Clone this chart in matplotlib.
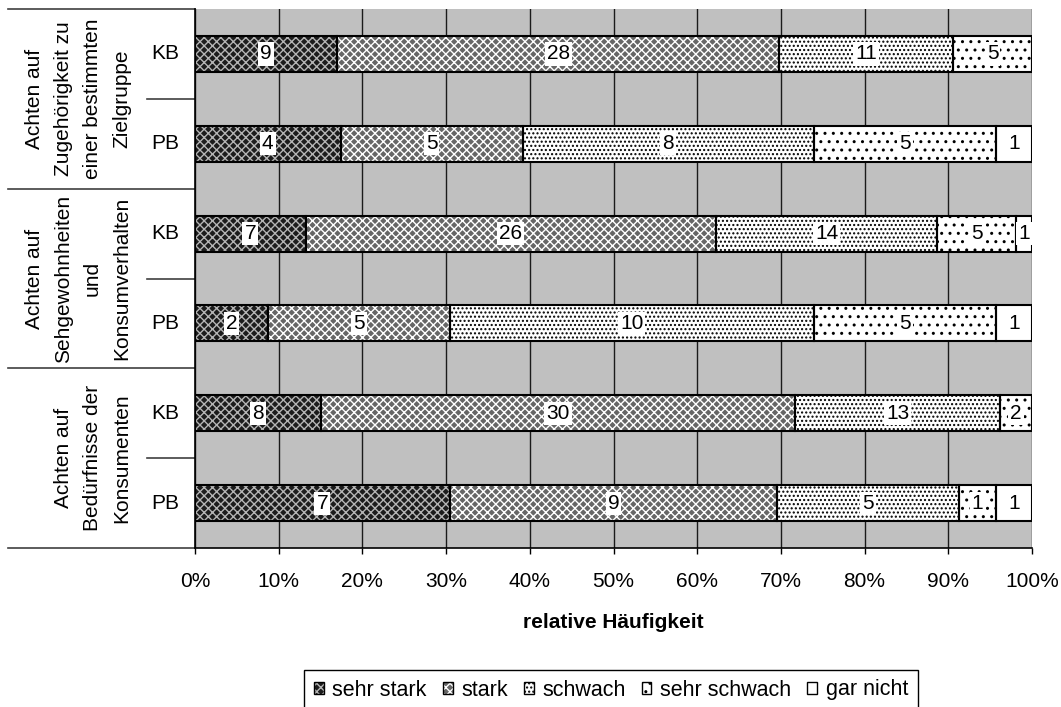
import matplotlib.pyplot as plt
from matplotlib.patches import Patch
from matplotlib.ticker import MultipleLocator, PercentFormatter
import numpy as np

plt.rcParams['font.family'] = ['Liberation Sans', 'DejaVu Sans']
plt.rcParams['hatch.linewidth'] = 1.0

# Stacked counts per answer level, rows top to bottom (KB/PB per criterion)
groups = [
    "Achten auf\nZugehörigkeit zu\neiner bestimmten\nZielgruppe",
    "Achten auf\nSehgewohnheiten\nund\nKonsumverhalten",
    "Achten auf\nBedürfnisse der\nKonsumenten",
]
rows = ["KB", "PB", "KB", "PB", "KB", "PB"]
levels = ["sehr stark", "stark", "schwach", "sehr schwach", "gar nicht"]

sehr_stark = [9, 4, 7, 2, 8, 7]
stark = [28, 5, 26, 5, 30, 9]
schwach = [11, 8, 14, 10, 13, 5]
sehr_schwach = [5, 5, 5, 5, 2, 1]
gar_nicht = [0, 1, 1, 1, 0, 1]

# face colour, hatch colour, hatch pattern
styles = [
    ("#1c1c1c", "#b4b4b4", "xxxx"),
    ("#666666", "#ffffff", "xxxx"),
    ("#ffffff", "#000000", "...."),
    ("#ffffff", "#000000", ".."),
    ("#ffffff", "#ffffff", ""),
]

counts = np.array([sehr_stark, stark, schwach, sehr_schwach, gar_nicht], dtype=float)
share = counts / counts.sum(axis=0)
y = np.arange(len(rows))

fig = plt.figure(figsize=(10.61, 7.07), dpi=100)
ax = fig.add_axes([195 / 1061, 1 - 548 / 707, 837 / 1061, 539 / 707])
ax.set_facecolor("#c0c0c0")

left = np.zeros(len(rows))
for k, (face, hcol, hatch) in enumerate(styles):
    w = share[k]
    ax.barh(y, w, left=left, height=0.4, color=face, edgecolor=hcol,
            hatch=hatch, linewidth=0, zorder=2)
    ax.barh(y, w, left=left, height=0.4, fill=False, edgecolor="black",
            linewidth=1.5, zorder=3)
    for i in range(len(rows)):
        if counts[k, i] > 0:
            ax.text(left[i] + w[i] / 2, y[i], f"{int(counts[k, i])}",
                    ha="center", va="center", fontsize=15, zorder=4,
                    bbox=dict(boxstyle="square,pad=0.1", fc="white", ec="none"))
    left += w

ax.set_xlim(0, 1)
ax.set_ylim(len(rows) - 0.5, -0.5)
ax.xaxis.set_major_locator(MultipleLocator(0.1))
ax.xaxis.set_major_formatter(PercentFormatter(1.0, decimals=0))
ax.set_yticks([])
ax.tick_params(axis="x", length=4.5, width=1, pad=13, labelsize=15)
ax.grid(axis="x", color="#1a1a1a", linewidth=1)
ax.set_axisbelow(True)
for side in ("top", "right"):
    ax.spines[side].set_visible(False)
for side in ("left", "bottom"):
    ax.spines[side].set_linewidth(1.2)
    ax.spines[side].set_color("black")

# two-level category table to the left of the plot
tr = ax.get_yaxis_transform()
for yy in (-0.5, 1.5, 3.5, 5.5):
    ax.plot([-0.2234, 0], [yy, yy], transform=tr, clip_on=False,
            color="#404040", linewidth=1.2)
for yy in (0.5, 2.5, 4.5):
    ax.plot([-0.0573, 0], [yy, yy], transform=tr, clip_on=False,
            color="#404040", linewidth=1.2)
for i, r in enumerate(rows):
    ax.text(-0.036, y[i], r, transform=tr, ha="center", va="center", fontsize=15)
for g, label in enumerate(groups):
    ax.text(-0.0765, 2 * g + 0.5, label, transform=tr, rotation=90,
            ha="right", va="center", multialignment="center",
            fontsize=15, linespacing=1.67)

fig.text(613.5 / 1061, 1 - 622 / 707, "relative Häufigkeit", ha="center",
         va="center", fontsize=15, fontweight="bold")

handles = [
    (Patch(facecolor=f, edgecolor=h, hatch=p, linewidth=0),
     Patch(fill=False, edgecolor="black", linewidth=1))
    for f, h, p in styles
]
leg = fig.legend(handles, levels, loc="center", ncol=5,
                 bbox_to_anchor=(611 / 1061, 1 - 690 / 707),
                 bbox_transform=fig.transFigure, fontsize=15.5,
                 handlelength=0.45, handleheight=0.45, handletextpad=0.4,
                 columnspacing=0.75, borderpad=0.45, fancybox=False,
                 edgecolor="black", framealpha=1)
leg.get_frame().set_linewidth(1)

fig.savefig("out.png", dpi=100)
